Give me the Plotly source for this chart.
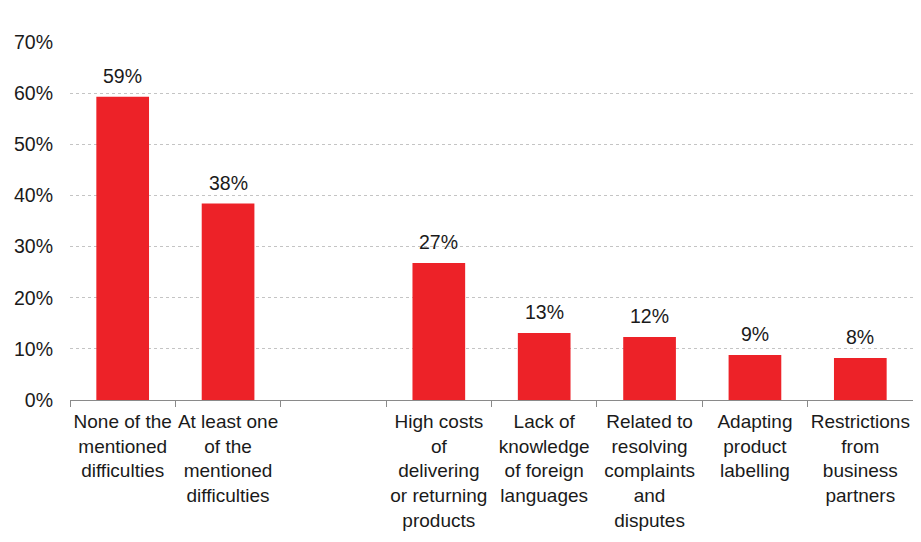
import plotly.graph_objects as go

categories = [
    "None of the<br>mentioned<br>difficulties",
    "At least one<br>of the<br>mentioned<br>difficulties",
    " ",
    "High costs<br>of<br>delivering<br>or returning<br>products",
    "Lack of<br>knowledge<br>of foreign<br>languages",
    "Related to<br>resolving<br>complaints<br>and<br>disputes",
    "Adapting<br>product<br>labelling",
    "Restrictions<br>from<br>business<br>partners",
]
values = [59.3, 38.4, None, 26.8, 13.1, 12.3, 8.8, 8.2]
labels = ["59%", "38%", "", "27%", "13%", "12%", "9%", "8%"]
y_ticks = [0, 10, 20, 30, 40, 50, 60, 70]
y_tick_text = [f"{v}%" for v in y_ticks]

font_family = "Liberation Sans, Arial, sans-serif"
text_color = "#1a1a1a"
fs = 19.5

fig = go.Figure(
    go.Bar(
        x=categories,
        y=values,
        marker=dict(color="#ED2228", line=dict(width=0)),
        hoverinfo="skip",
    )
)

for c, v, t in zip(categories, values, labels):
    if v is None:
        continue
    fig.add_annotation(
        x=c, y=v, text=t, showarrow=False,
        yanchor="bottom", yshift=8,
        font=dict(size=fs, color=text_color, family=font_family),
    )

fig.update_layout(
    width=905,
    height=526,
    margin=dict(l=62, r=0, t=34, b=134),
    paper_bgcolor="white",
    plot_bgcolor="white",
    bargap=0.5,
    showlegend=False,
    font=dict(family=font_family, size=fs, color=text_color),
)

fig.update_xaxes(
    type="category",
    range=[-0.5, 7.5],
    tickson="boundaries",
    ticks="outside",
    ticklen=6,
    tickcolor="#8a8a8a",
    showline=True,
    linecolor="#8a8a8a",
    linewidth=1,
    showgrid=False,
    tickangle=0,
    automargin=False,
    ticklabelstandoff=4,
    tickfont=dict(size=19, color=text_color),
)

fig.update_yaxes(
    range=[0, 70],
    tickvals=y_ticks,
    ticktext=y_tick_text,
    showgrid=True,
    gridcolor="#c4c4c4",
    griddash="dot",
    gridwidth=1,
    zeroline=False,
    showline=False,
    ticks="",
    ticklabelstandoff=16,
    automargin=False,
    tickfont=dict(size=fs, color=text_color),
)

fig.write_html("out.html")
